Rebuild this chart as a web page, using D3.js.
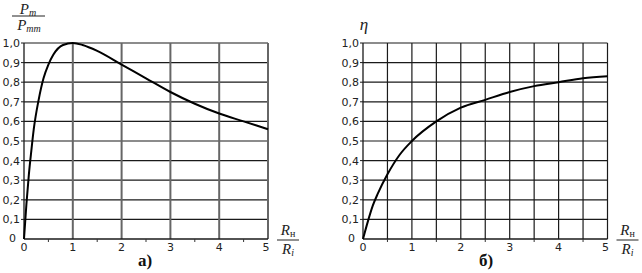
<!DOCTYPE html>
<html><head><meta charset="utf-8">
<script src="https://cdn.jsdelivr.net/npm/d3@7/dist/d3.min.js"></script>
<style>body{margin:0;background:#fff}svg{display:block}</style>
</head><body>
<svg id="c" width="642" height="273"></svg>
<script>
// Data
const xTicks = [0, 1, 2, 3, 4, 5];
const yTicks = [0, 0.1, 0.2, 0.3, 0.4, 0.5, 0.6, 0.7, 0.8, 0.9, 1.0];
const yTickLabels = ["0", "0,1", "0,2", "0,3", "0,4", "0,5", "0,6", "0,7", "0,8", "0,9", "1,0"];
const powerX = [0, 0.05, 0.1, 0.15, 0.2, 0.3, 0.4, 0.5, 0.6, 0.8, 1.0, 1.2, 1.5, 2.0, 2.5, 3.0, 3.5, 4.0, 4.5, 5.0];
const powerY = [0, 0.18, 0.33, 0.45, 0.56, 0.71, 0.82, 0.89, 0.94, 0.99, 1.0, 0.99, 0.96, 0.89, 0.82, 0.75, 0.69, 0.64, 0.60, 0.56];
const effX = [0, 0.1, 0.2, 0.3, 0.5, 0.75, 1.0, 1.5, 2.0, 2.5, 3.0, 3.5, 4.0, 4.5, 5.0];
const effY = [0, 0.09, 0.17, 0.23, 0.33, 0.43, 0.50, 0.60, 0.67, 0.71, 0.75, 0.78, 0.80, 0.82, 0.83];

const svg = d3.select("#c");

function panel(o) {
  const x = d3.scaleLinear().domain([0, 5]).range([o.x0, o.x1]);
  const y = d3.scaleLinear().domain([0, 1]).range([239, 43]);
  const g = svg.append("g");
  // horizontal grid
  g.selectAll("line.h").data(yTicks.slice(1)).join("line")
    .attr("x1", x(0)).attr("x2", x(5))
    .attr("y1", d => y(d)).attr("y2", d => y(d))
    .attr("stroke", "#1a1a1a").attr("stroke-width", 1.2);
  // vertical grid
  g.selectAll("line.v").data(o.vGrid).join("line")
    .attr("x1", d => x(d)).attr("x2", d => x(d))
    .attr("y1", y(0)).attr("y2", y(1))
    .attr("stroke", o.vColor).attr("stroke-width", o.vWidth);
  // axes
  g.append("line").attr("x1", x(0)).attr("x2", x(0)).attr("y1", y(0)).attr("y2", y(1))
    .attr("stroke", "#1a1a1a").attr("stroke-width", 1.3);
  g.append("line").attr("x1", x(0)).attr("x2", x(5)).attr("y1", y(0)).attr("y2", y(0))
    .attr("stroke", "#1a1a1a").attr("stroke-width", 1.3);
  // small ticks at halves
  g.selectAll("line.t").data([0.5, 1.5, 2.5, 3.5, 4.5]).join("line")
    .attr("x1", d => x(d)).attr("x2", d => x(d))
    .attr("y1", y(0)).attr("y2", y(0) + 3)
    .attr("stroke", "#333").attr("stroke-width", 1);
  // y tick marks
  g.selectAll("line.yt").data(yTicks.slice(1)).join("line")
    .attr("x1", x(0) - 3).attr("x2", x(0))
    .attr("y1", d => y(d)).attr("y2", d => y(d))
    .attr("stroke", "#1a1a1a").attr("stroke-width", 1);
  // y labels
  g.selectAll("text.yl").data(yTicks).join("text")
    .attr("x", (d, i) => i === 0 ? x(0) - 8 : x(0) - 4)
    .attr("y", (d, i) => y(d) + (i === 0 ? 3 : 4))
    .attr("text-anchor", "end")
    .attr("font-family", "DejaVu Sans").attr("font-size", 11).attr("fill", "#222")
    .text((d, i) => yTickLabels[i]);
  // x labels
  g.selectAll("text.xl").data(xTicks).join("text")
    .attr("x", d => x(d) + (d === 5 ? -2 : 0)).attr("y", 251)
    .attr("text-anchor", "middle")
    .attr("font-family", "DejaVu Sans").attr("font-size", 11).attr("fill", "#222")
    .text(d => d);
  // curve
  const pts = o.xs.map((v, i) => [v, o.ys[i]]);
  g.append("path").datum(pts)
    .attr("d", d3.line().x(d => x(d[0])).y(d => y(d[1])).curve(d3.curveMonotoneX))
    .attr("fill", "none").attr("stroke", "#000").attr("stroke-width", 2);
  // x axis fraction label
  const fx = x(5) + 20;
  const t1 = g.append("text").attr("x", fx).attr("y", 235).attr("text-anchor", "middle")
    .attr("font-family", "Liberation Serif").attr("font-size", 15).attr("fill", "#222");
  t1.append("tspan").attr("font-style", "italic").text("R");
  t1.append("tspan").attr("font-size", 10).attr("dy", 2).text("н");
  g.append("line").attr("x1", fx - 11).attr("x2", fx + 11).attr("y1", 240).attr("y2", 240)
    .attr("stroke", "#222").attr("stroke-width", 1);
  const t2 = g.append("text").attr("x", fx).attr("y", 254).attr("text-anchor", "middle")
    .attr("font-family", "Liberation Serif").attr("font-size", 15).attr("fill", "#222");
  t2.append("tspan").attr("font-style", "italic").text("R");
  t2.append("tspan").attr("font-style", "italic").attr("font-size", 10).attr("dy", 2).text("i");
  // panel letter
  g.append("text").attr("x", o.letterX).attr("y", 266).attr("text-anchor", "middle")
    .attr("font-family", "Liberation Serif").attr("font-size", 17).attr("font-weight", "bold")
    .attr("fill", "#111").text(o.letter);
  return g;
}

const gA = panel({x0: 24, x1: 268, vGrid: [1, 2, 3, 4, 5], vColor: "#666", vWidth: 2,
  xs: powerX, ys: powerY, letter: "а)", letterX: 145});
const gB = panel({x0: 363, x1: 607.5, vGrid: [0.5, 1, 1.5, 2, 2.5, 3, 3.5, 4, 4.5, 5], vColor: "#1a1a1a", vWidth: 1.2,
  xs: effX, ys: effY, letter: "б)", letterX: 486});

// left y-axis fraction label P_m / P_mm
const n = svg.append("text").attr("x", 28).attr("y", 14).attr("text-anchor", "middle")
  .attr("font-family", "Liberation Serif").attr("font-style", "italic").attr("font-size", 15).attr("fill", "#222");
n.append("tspan").text("P");
n.append("tspan").attr("font-size", 10).attr("dy", 2).text("m");
svg.append("line").attr("x1", 12).attr("x2", 45).attr("y1", 16).attr("y2", 16)
  .attr("stroke", "#222").attr("stroke-width", 1);
const dn = svg.append("text").attr("x", 29).attr("y", 30).attr("text-anchor", "middle")
  .attr("font-family", "Liberation Serif").attr("font-style", "italic").attr("font-size", 15).attr("fill", "#222");
dn.append("tspan").text("P");
dn.append("tspan").attr("font-size", 10).attr("dy", 2).text("mm");

// right y-axis label η
svg.append("text").attr("x", 364).attr("y", 30).attr("text-anchor", "middle")
  .attr("font-family", "Liberation Serif").attr("font-style", "italic").attr("font-size", 17).attr("fill", "#222")
  .text("η");
</script>
</body></html>
